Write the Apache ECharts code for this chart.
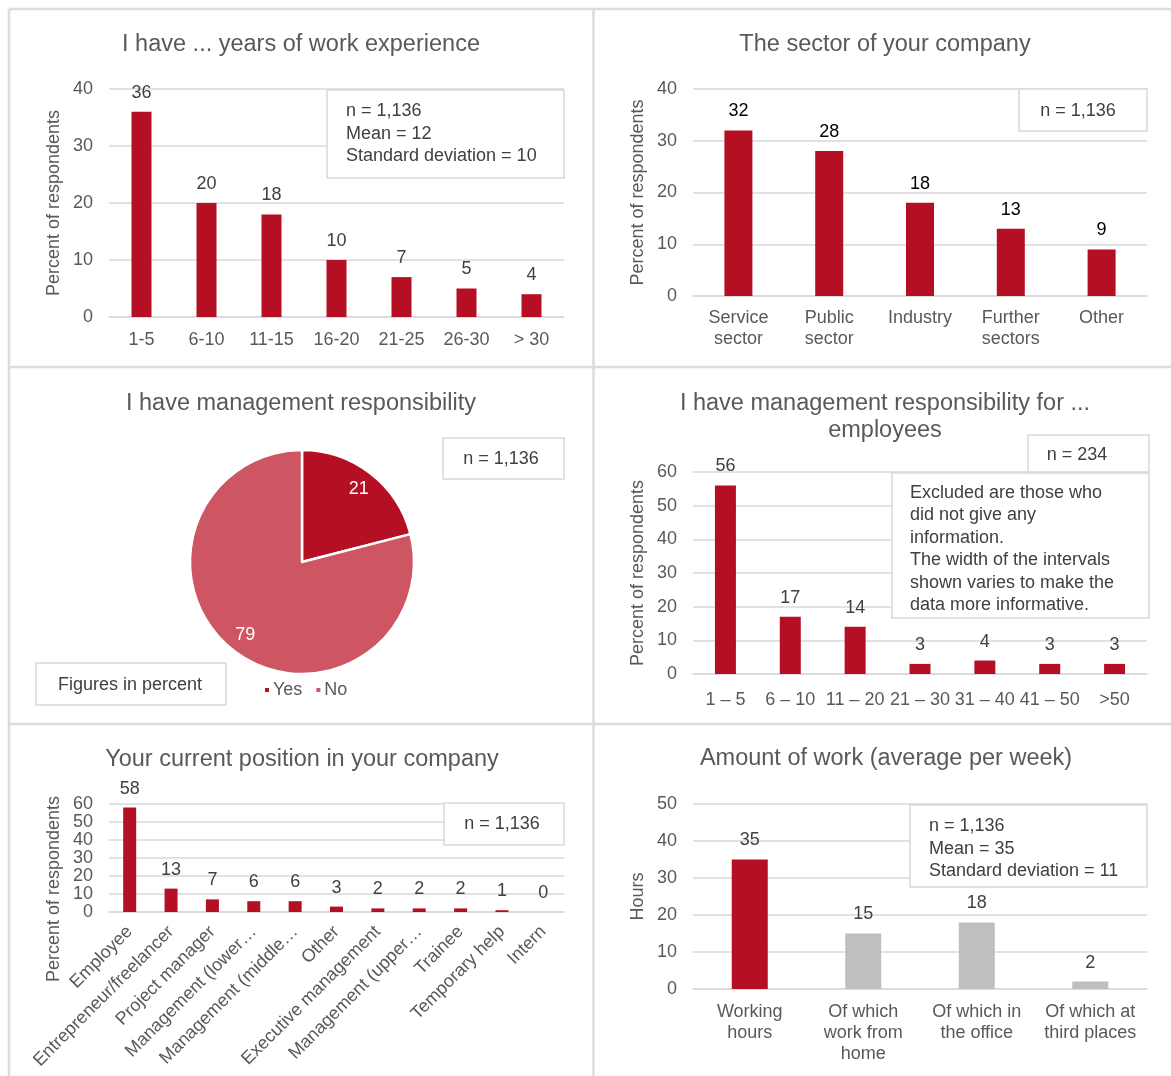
<!DOCTYPE html>
<html>
<head>
<meta charset="utf-8">
<title>Survey profile of respondents</title>
<script src="https://cdn.jsdelivr.net/npm/echarts@6/dist/echarts.min.js"></script>
<style>
  html, body { margin: 0; padding: 0; background: #fff; }
  #chart { width: 1171px; height: 1076px; }
</style>
</head>
<body>
<div id="chart"></div>
<script>
// ---- data ----
const expYears = ['1-5', '6-10', '11-15', '16-20', '21-25', '26-30', '> 30'];
const expShare = [36, 20, 18, 10, 7, 5, 4];

const sectors = ['Service\nsector', 'Public\nsector', 'Industry', 'Further\nsectors', 'Other'];
const sectorShare = [32, 28, 18, 13, 9];

const mgmtAnswers = ['Yes', 'No'];
const mgmtShare = [21, 79];

const teamSizes = ['1 – 5', '6 – 10', '11 – 20', '21 – 30', '31 – 40', '41 – 50', '>50'];
const teamShare = [56, 17, 14, 3, 4, 3, 3];

const positions = ['Employee', 'Entrepreneur/freelancer', 'Project manager', 'Management (lower…',
  'Management (middle…', 'Other', 'Executive management', 'Management (upper…',
  'Trainee', 'Temporary help', 'Intern'];
const positionShare = [58, 13, 7, 6, 6, 3, 2, 2, 2, 1, 0];

const workKinds = ['Working\nhours', 'Of which\nwork from\nhome', 'Of which in\nthe office', 'Of which at\nthird places'];
const workHours = [35, 15, 18, 2];

// ---- styling ----
const FONT = '"Liberation Sans", Arial, sans-serif';
const RED = '#b50f23';
const PINK = '#cd5662';
const GREY_BAR = '#bfbfbf';
const GRID_LINE = '#d9d9d9';
const AXIS_TEXT = '#595959';
const VALUE_TEXT = '#404040';
const FS = 18;

const chart = echarts.init(document.getElementById('chart'), null, { renderer: 'canvas' });

function yAxisFor(gridIndex, max, interval, name, nameExtra) {
  return {
    type: 'value', gridIndex, min: 0, max, interval,
    name, nameLocation: 'middle', nameGap: 46,
    nameTextStyle: Object.assign({ color: AXIS_TEXT, fontSize: FS, fontFamily: FONT }, nameExtra || {}),
    axisLine: { show: false }, axisTick: { show: false },
    axisLabel: { color: AXIS_TEXT, fontSize: FS, fontFamily: FONT, margin: 16 },
    splitLine: { lineStyle: { color: GRID_LINE, width: 1.5 } }
  };
}

function xAxisFor(gridIndex, data, margin, extra) {
  return {
    type: 'category', gridIndex, data,
    axisLine: { lineStyle: { color: GRID_LINE, width: 1.5 } },
    axisTick: { show: false },
    axisLabel: Object.assign({ color: AXIS_TEXT, fontSize: FS, fontFamily: FONT, margin, interval: 0, lineHeight: 21 }, extra || {})
  };
}

function barSeries(idx, data, barWidth, labelColor) {
  return {
    type: 'bar', xAxisIndex: idx, yAxisIndex: idx, data, barWidth,
    itemStyle: { color: RED },
    label: { show: true, position: 'top', distance: 10, color: labelColor || VALUE_TEXT, fontSize: FS, fontFamily: FONT },
    silent: true, animation: false
  };
}

// text box with light grey frame, drawn above the grid lines
function noteBox(x, y, w, h, text, align, tx, ty) {
  return {
    type: 'group',
    children: [
      { type: 'rect', z: 100, shape: { x, y, width: w, height: h }, style: { fill: '#fff', stroke: GRID_LINE, lineWidth: 1.5 } },
      { type: 'text', z: 101, style: {
          text, x: tx, y: ty, fill: VALUE_TEXT, font: FS + 'px ' + FONT,
          lineHeight: 22.5, align, verticalAlign: 'middle'
        } }
    ]
  };
}

function panelLine(x1, y1, x2, y2) {
  return { type: 'line', z: 120, shape: { x1, y1, x2, y2 }, style: { stroke: '#dcdcdc', lineWidth: 2.5 } };
}

const titleStyle = { color: AXIS_TEXT, fontSize: 23.5, fontWeight: 'normal', fontFamily: FONT, lineHeight: 27 };
function panelTitle(text, x, y) {
  return { text, left: x, top: y, textAlign: 'center', padding: 0, textStyle: titleStyle };
}

const option = {
  animation: false,
  title: [
    panelTitle('I have ... years of work experience', 301, 31.5),
    panelTitle('The sector of your company', 885, 31.5),
    panelTitle('I have management responsibility', 301, 390.5),
    panelTitle('I have management responsibility for ...\nemployees', 885, 390),
    panelTitle('Your current position in your company', 302, 746.5),
    panelTitle('Amount of work (average per week)', 886, 745.5)
  ],
  grid: [
    { left: 109, top: 89, width: 455, height: 228 },
    { left: 693, top: 89, width: 454, height: 207 },
    { left: 693, top: 472, width: 454, height: 202 },
    { left: 109, top: 804, width: 455, height: 108 },
    { left: 693, top: 804, width: 454, height: 185 }
  ],
  xAxis: [
    xAxisFor(0, expYears, 13),
    xAxisFor(1, sectors, 12),
    xAxisFor(2, teamSizes, 16),
    xAxisFor(3, positions, 17, { rotate: 45 }),
    xAxisFor(4, workKinds, 13)
  ],
  yAxis: [
    yAxisFor(0, 40, 10, 'Percent of respondents'),
    yAxisFor(1, 40, 10, 'Percent of respondents'),
    yAxisFor(2, 60, 10, 'Percent of respondents'),
    yAxisFor(3, 60, 10, 'Percent of respondents', { padding: [0, 62, 0, 0] }),
    yAxisFor(4, 50, 10, 'Hours')
  ],
  legend: {
    data: mgmtAnswers, left: 258, top: 676, icon: 'rect', itemWidth: 6, itemHeight: 6, itemGap: 12,
    textStyle: { color: AXIS_TEXT, fontSize: FS, fontFamily: FONT, padding: [0, 0, 0, -2] },
    selectedMode: false
  },
  series: [
    barSeries(0, expShare, 20),
    barSeries(1, sectorShare, 28, '#000'),
    barSeries(2, teamShare, 21),
    barSeries(3, positionShare, 13),
    barSeries(4, workHours.map((v, i) => ({ value: v, itemStyle: { color: i === 0 ? RED : GREY_BAR } })), 36),
    {
      type: 'pie', center: [302, 562], radius: 112, startAngle: 90, clockwise: true,
      data: mgmtAnswers.map((n, i) => ({ name: n, value: mgmtShare[i], itemStyle: { color: i === 0 ? RED : PINK } })),
      itemStyle: { borderColor: '#fff', borderWidth: 2.5 },
      label: { show: false }, labelLine: { show: false }, silent: true, animation: false
    },
    {
      // transparent ring that carries the slice labels near the rim
      type: 'pie', center: [302, 562], radius: [67, 112], startAngle: 90, clockwise: true,
      data: mgmtAnswers.map((n, i) => ({ name: n, value: mgmtShare[i] })),
      itemStyle: { color: 'rgba(0,0,0,0)' },
      label: { show: true, position: 'inside', color: '#fff', fontSize: FS, fontFamily: FONT, formatter: '{c}' },
      labelLine: { show: false }, silent: true, animation: false, legendHoverLink: false
    }
  ],
  graphic: [
    panelLine(9, 9, 1171, 9),
    panelLine(9, 9, 9, 1076),
    panelLine(593.5, 9, 593.5, 1076),
    panelLine(9, 367, 1171, 367),
    panelLine(9, 724, 1171, 724),
    noteBox(327, 90, 237, 88, 'n = 1,136\nMean = 12\nStandard deviation = 10', 'left', 346, 134),
    noteBox(1019, 89, 128, 42, 'n = 1,136', 'center', 1078, 111),
    noteBox(443, 438, 121, 41, 'n = 1,136', 'center', 501, 459),
    noteBox(36, 663, 190, 42, 'Figures in percent', 'center', 130, 685),
    noteBox(1028, 435, 121, 37, 'n = 234', 'center', 1077, 455),
    noteBox(892, 473, 257, 145,
      'Excluded are those who\ndid not give any\ninformation.\nThe width of the intervals\nshown varies to make the\ndata more informative.',
      'left', 910, 549),
    noteBox(444, 803, 120, 42, 'n = 1,136', 'center', 502, 824),
    noteBox(910, 805, 237, 82, 'n = 1,136\nMean = 35\nStandard deviation = 11', 'left', 929, 849)
  ]
};

chart.setOption(option);
</script>
</body>
</html>
